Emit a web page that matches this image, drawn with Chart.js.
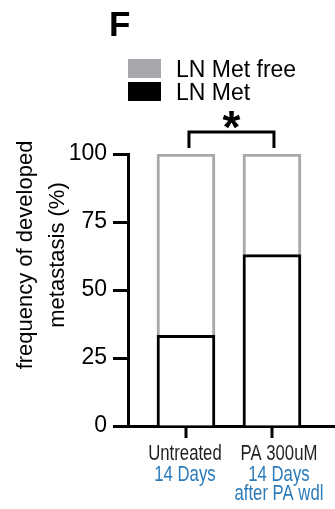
<!DOCTYPE html>
<html>
<head>
<meta charset="utf-8">
<script src="https://cdn.jsdelivr.net/npm/chart.js@4"></script>
<style>
  html, body { margin: 0; padding: 0; background: #fff; }
  #wrap { width: 335px; height: 509px; }
</style>
</head>
<body>
<div id="wrap"><canvas id="metChart" width="335" height="509"></canvas></div>
<script>
const groups = ["Untreated", "PA 300uM"];
const groupSub = [["14 Days"], ["14 Days", "after PA wdl"]];
const lnMet = [33.3, 63];
const lnMetFree = [66.7, 37];
const yTicks = [0, 25, 50, 75, 100];
const yTitle = ["frequency of developed", "metastasis (%)"];
const panelLetter = "F";
const sigMark = "*";

const GREY = "#a6a8ab";
const BLUE = "#2b7bba";
const SANS = "'Liberation Sans', Arial, sans-serif";

// condensed text: squeeze horizontally
function narrowText(ctx, s, cx, by, sx) {
    ctx.save();
    ctx.translate(cx, by);
    ctx.scale(sx, 1);
    ctx.fillText(s, 0, 0);
    ctx.restore();
}

// extra drawing: panel letter, legend, bracket, axis title, group labels
const decor = {
    id: "decor",
    afterDraw(chart) {
        const ctx = chart.ctx;
        const x = chart.scales.x;
        const y = chart.scales.y;
        const base = y.getPixelForValue(0);
        ctx.save();

        ctx.fillStyle = "#000";
        ctx.font = "bold 35px " + SANS;
        ctx.textBaseline = "alphabetic";
        ctx.fillText(panelLetter, 109, 36);

        // legend, free first
        const items = chart.data.datasets.slice().reverse();
        items.forEach((ds, i) => {
            const top = 59 + i * 23;
            ctx.fillStyle = ds.legendColor;
            ctx.fillRect(128, top, 33, 19);
            ctx.fillStyle = "#000";
            ctx.font = "23px " + SANS;
            ctx.fillText(ds.label, 176, top + 18);
        });

        // significance bracket
        const xa = x.getPixelForValue(0) + 3;
        const xb = x.getPixelForValue(1) + 2;
        const yTop = y.getPixelForValue(100) - 22;
        ctx.strokeStyle = "#000";
        ctx.lineWidth = 3;
        ctx.beginPath();
        ctx.moveTo(xa, yTop + 16);
        ctx.lineTo(xa, yTop);
        ctx.lineTo(xb, yTop);
        ctx.lineTo(xb, yTop + 16);
        ctx.stroke();
        ctx.fillStyle = "#000";
        ctx.font = "bold 46px " + SANS;
        ctx.textAlign = "center";
        ctx.fillText(sigMark, (xa + xb) / 2, yTop + 11);

        // x tick marks below axis
        ctx.fillStyle = "#000";
        groups.forEach((g, i) => {
            const px = Math.round(x.getPixelForValue(i));
            ctx.fillRect(px - 1.5, base, 3, 12);
        });

        // y axis title
        ctx.font = "22px " + SANS;
        ctx.textAlign = "center";
        yTitle.forEach((line, i) => {
            ctx.save();
            ctx.translate(32 + i * 32, 255);
            ctx.rotate(-Math.PI / 2);
            ctx.fillText(line, 0, 0);
            ctx.restore();
        });

        // group labels under axis
        groups.forEach((g, i) => {
            const cx = x.getPixelForValue(i) + (i === 1 ? 7 : -1);
            ctx.font = "22px " + SANS;
            ctx.fillStyle = "#231f20";
            narrowText(ctx, g, cx, 460, 0.76);
            ctx.fillStyle = BLUE;
            groupSub[i].forEach((s, j) => {
                narrowText(ctx, s, cx, 481 + j * 19, 0.76);
            });
        });

        ctx.restore();
    }
};

const ctx = document.getElementById("metChart").getContext("2d");

new Chart(ctx, {
    type: "bar",
    data: {
        datasets: [{
            label: "LN Met",
            data: lnMet.map((v, i) => ({ x: i, y: v })),
            backgroundColor: "#fff",
            borderColor: "#000",
            borderWidth: 3,
            legendColor: "#000",
            barThickness: 58
        }, {
            label: "LN Met free",
            data: lnMetFree.map((v, i) => ({ x: i, y: v })),
            backgroundColor: "#fff",
            borderColor: GREY,
            borderWidth: 3,
            legendColor: GREY,
            barThickness: 58
        }]
    },
    options: {
        responsive: false,
        animation: false,
        layout: { padding: { top: 154, left: 0, right: 0, bottom: 0 } },
        plugins: {
            legend: { display: false },
            tooltip: { enabled: false }
        },
        scales: {
            x: {
                type: "linear",
                stacked: true,
                offset: false,
                min: -0.674,
                max: 1.733,
                afterBuildTicks: (s) => { s.ticks = [{ value: 0 }, { value: 1 }]; },
                afterFit: (s) => { s.height = 83; },
                ticks: { display: false },
                grid: { offset: false, display: false },
                border: { color: "#000", width: 3 }
            },
            y: {
                stacked: true,
                min: 0,
                max: 100,
                afterBuildTicks: (s) => { s.ticks = yTicks.map(v => ({ value: v })); },
                afterFit: (s) => { s.width = 128; },
                ticks: {
                    color: "#000",
                    padding: 6,
                    font: { family: SANS, size: 23 }
                },
                grid: {
                    drawOnChartArea: false,
                    tickLength: 15,
                    tickWidth: 3,
                    tickColor: "#000"
                },
                border: { color: "#000", width: 3 }
            }
        }
    },
    plugins: [decor]
});
</script>
</body>
</html>
